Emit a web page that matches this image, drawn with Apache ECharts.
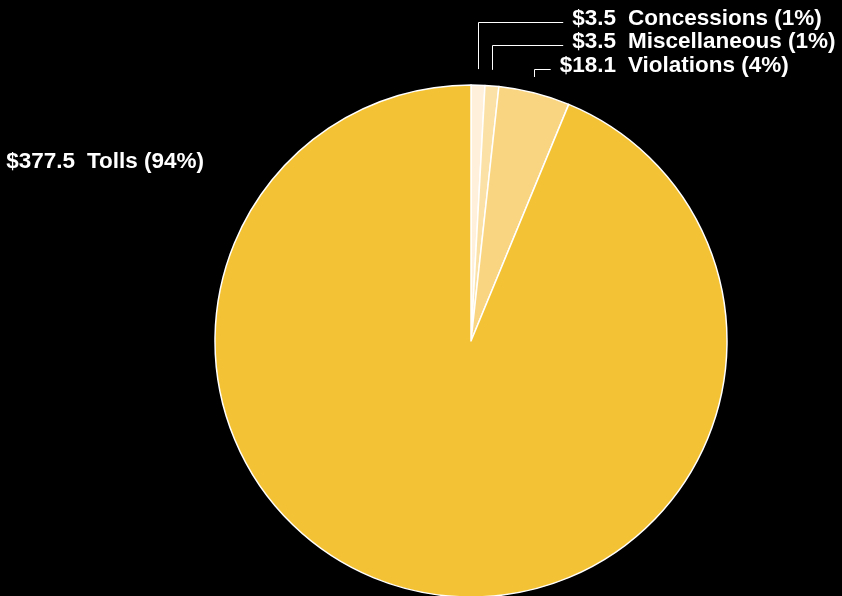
<!DOCTYPE html>
<html>
<head>
<meta charset="utf-8">
<script src="https://cdn.jsdelivr.net/npm/echarts@6/dist/echarts.min.js"></script>
<style>
  html, body { margin: 0; padding: 0; background: #000; }
  #chart { width: 842px; height: 596px; }
</style>
</head>
<body>
<div id="chart"></div>
<script>
// revenue sources, $ millions
const categories = ['Concessions', 'Miscellaneous', 'Violations', 'Tolls'];
const values = [3.5, 3.5, 18.1, 377.5];
const colors = ['#FEF0DB', '#FBE1A6', '#F9D581', '#F4C335'];

// where each label sits (left edge of label box, middle y)
const labelSpots = [
  { x: 546, y: 18.5 },
  { x: 546, y: 42 },
  { x: 546, y: 66 },
  { x: 5, y: 162 }
];
const valueBoxW = 70;
const fontSize = 22.5;
const fontFamily = '"Liberation Sans", Arial, Helvetica, sans-serif';

const total = values.reduce(function (a, b) { return a + b; }, 0);
const measure = document.createElement('canvas').getContext('2d');
measure.font = 'bold ' + fontSize + 'px ' + fontFamily;

function money(v) { return '$' + v.toFixed(1); }
function textW(i) { return measure.measureText(money(values[i])).width; }

// right-align the value part: a spacer per item fills the box
const txt = { color: '#fff', fontFamily: fontFamily, fontWeight: 'bold', fontSize: fontSize };
const rich = { v: txt, n: txt, g: { width: 12, fontSize: fontSize } };
values.forEach(function (v, i) {
  rich['s' + i] = { width: Math.max(0, valueBoxW - textW(i)), fontSize: fontSize };
});

const myChart = echarts.init(document.getElementById('chart'));
myChart.setOption({
  backgroundColor: '#000',
  animation: false,
  series: [{
    type: 'pie',
    center: [471, 341],
    radius: 256,
    startAngle: 90,
    clockwise: true,
    avoidLabelOverlap: false,
    itemStyle: { borderColor: '#fff', borderWidth: 1.5 },
    label: {
      show: true,
      position: 'outside',
      color: '#fff',
      fontFamily: fontFamily,
      fontWeight: 'bold',
      fontSize: fontSize,
      formatter: function (p) {
        const pct = Math.round(p.value / total * 100);
        return '{s' + p.dataIndex + '| }{v|' + money(p.value) + '}{g| }{n|' + p.name + ' (' + pct + '%)}';
      },
      rich: rich
    },
    labelLine: {
      show: true,
      smooth: false,
      length: 10,
      length2: 10,
      lineStyle: { color: '#fff', width: 1 }
    },
    labelLayout: function (params) {
      const i = params.dataIndex;
      const spot = labelSpots[i];
      const out = { x: spot.x, y: spot.y, align: 'left', verticalAlign: 'middle' };
      const pts = params.labelLinePoints;
      if (pts && i < 3) {
        const endX = spot.x + valueBoxW - textW(i) - 9;
        const lineY = Math.round(spot.y + 3) + 0.5;
        const x0 = Math.round(pts[0][0]) + 0.5;
        out.labelLinePoints = [[x0, pts[0][1] - 16], [x0, lineY], [endX, lineY]];
      }
      return out;
    },
    data: categories.map(function (c, i) {
      const item = { name: c, value: values[i], itemStyle: { color: colors[i] } };
      if (c === 'Tolls') item.labelLine = { show: false };
      return item;
    })
  }]
});
</script>
</body>
</html>
